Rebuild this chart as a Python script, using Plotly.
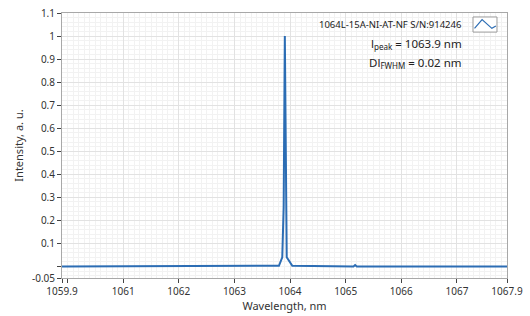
import plotly.graph_objects as go

# Data
wavelength = [1059.9, 1063.80, 1063.86, 1063.885, 1063.906, 1063.925, 1063.94, 1064.04,
              1065.14, 1065.17, 1065.20, 1067.9]
intensity = [0.0, 0.003, 0.04, 0.26, 1.0, 0.26, 0.04, 0.003,
             0.0, 0.006, 0.0, 0.0]

x_tickvals = [1059.9, 1061, 1062, 1063, 1064, 1065, 1066, 1067, 1067.9]
x_ticktext = ["1059.9", "1061", "1062", "1063", "1064", "1065", "1066", "1067", "1067.9"]
x_unlabeled = [1060]
y_tickvals = [-0.05, 0.1, 0.2, 0.3, 0.4, 0.5, 0.6, 0.7, 0.8, 0.9, 1.0, 1.1]
y_ticktext = ["-0.05", "0.1", "0.2", "0.3", "0.4", "0.5", "0.6", "0.7", "0.8", "0.9", "1", "1.1"]
y_unlabeled = [0]
x_range = [1059.9, 1067.9]
y_range = [-0.05, 1.1]

legend_name = "1064L-15A-NI-AT-NF S/N:914246"
peak_text = "l<sub>peak</sub> = 1063.9 nm"
fwhm_text = "Dl<sub>FWHM</sub> = 0.02 nm"

LINE = "#2c6db4"
FONT = "Noto Sans"
TXT = "#333333"

fig = go.Figure()
fig.add_trace(go.Scatter(x=wavelength, y=intensity, mode="lines",
                         line=dict(color=LINE, width=2), name=legend_name,
                         showlegend=False))
# empty trace so the overlay axes (unlabeled ticks) are drawn
fig.add_trace(go.Scatter(x=[], y=[], xaxis="x2", yaxis="y2", showlegend=False, hoverinfo="skip"))

axis_common = dict(
    showline=True, linecolor="#a8a8a8", mirror=True,
    ticks="outside", ticklen=4, tickcolor="#444444",
    tickfont=dict(family=FONT, size=10, color=TXT),
    showgrid=True, gridcolor="#e2e2e2", gridwidth=1,
    zeroline=False, automargin=False,
)

fig.update_layout(
    xaxis=dict(
        range=x_range, tickmode="array", tickvals=x_tickvals, ticktext=x_ticktext,
        title=dict(text="Wavelength, nm", font=dict(family=FONT, size=11, color=TXT), standoff=3),
        minor=dict(dtick=0.1, tick0=1060, showgrid=True, gridcolor="#f2f2f2", ticks=""),
        **axis_common,
    ),
    yaxis=dict(
        range=y_range, tickmode="array", tickvals=y_tickvals, ticktext=y_ticktext,
        title=dict(text="Intensity, a. u.", font=dict(family=FONT, size=11, color=TXT), standoff=6),
        minor=dict(dtick=0.02, tick0=0, showgrid=True, gridcolor="#f2f2f2", ticks=""),
        **axis_common,
    ),
    xaxis2=dict(overlaying="x", range=x_range, tickmode="array", tickvals=x_unlabeled,
                showticklabels=False, ticks="outside", ticklen=4, tickcolor="#444444",
                showgrid=False, zeroline=False, showline=False, side="bottom", automargin=False),
    yaxis2=dict(overlaying="y", range=y_range, tickmode="array", tickvals=y_unlabeled,
                showticklabels=False, ticks="outside", ticklen=4, tickcolor="#444444",
                showgrid=False, zeroline=False, showline=False, side="left", automargin=False),
)

# Legend-like label and icon
fig.add_annotation(xref="paper", yref="paper", x=0.901, y=0.958, xanchor="right", yanchor="middle",
                   text=legend_name, showarrow=False,
                   font=dict(family=FONT, size=9.5, color="#222222"))
fig.add_shape(type="rect", xref="paper", yref="paper", x0=0.9236, x1=0.9775, y0=0.928, y1=0.985,
              line=dict(color="#9a9a9a", width=1), fillcolor="white")
fig.add_shape(type="path", xref="paper", yref="paper",
              path="M 0.927 0.942 L 0.944 0.975 L 0.966 0.942 L 0.975 0.951",
              line=dict(color=LINE, width=1.2))
fig.add_annotation(xref="paper", yref="paper", x=0.903, y=0.883, xanchor="right", yanchor="middle",
                   text=peak_text, showarrow=False,
                   font=dict(family=FONT, size=11.5, color="#222222"))
fig.add_annotation(xref="paper", yref="paper", x=0.903, y=0.811, xanchor="right", yanchor="middle",
                   text=fwhm_text, showarrow=False,
                   font=dict(family=FONT, size=11.5, color="#222222"))

fig.update_layout(
    width=530, height=316,
    margin=dict(l=62, r=23, t=13, b=38),
    paper_bgcolor="white", plot_bgcolor="white",
    font=dict(family=FONT, size=11, color=TXT),
)

fig.write_html("out.html", config={"displayModeBar": False},
               post_script="document.body.style.margin='0';document.body.style.padding='0';")
